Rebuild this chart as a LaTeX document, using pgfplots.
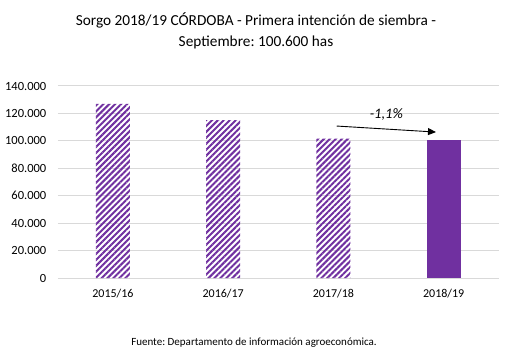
\documentclass[border=0pt]{standalone}
\usepackage{fontspec}
\setmainfont{Carlito}
\usepackage{pgfplots}
\pgfplotsset{compat=1.18}
\usetikzlibrary{patterns.meta,arrows.meta}
\definecolor{purp}{HTML}{7030A0}
\definecolor{gridc}{HTML}{D9D9D9}
\frenchspacing
\begin{document}
\begin{tikzpicture}
\useasboundingbox (0pt,0pt) rectangle (510pt,350pt);
\node[align=center,font=\fontsize{15.3}{21}\selectfont] at (256pt,319pt) {Sorgo 2018/19 CÓRDOBA - Primera intención de siembra -\\Septiembre: 100.600 has};
\node[font=\fontsize{11}{13}\selectfont] at (254pt,7pt) {Fuente: Departamento de información agroeconómica.};
\begin{axis}[
  at={(57.8pt,72pt)}, anchor=south west,
  scale only axis, width=441pt, height=192pt,
  xmin=-0.5, xmax=3.5, ymin=0, ymax=140000,
  xtick={0,1,2,3}, xticklabels={2015/16,2016/17,2017/18,2018/19},
  ytick={0,20000,40000,60000,80000,100000,120000,140000},
  ymajorgrids, grid style={gridc, line width=1pt},
  axis line style={draw=none},
  major tick length=0pt,
  yticklabel style={font=\fontsize{12.5}{14}\selectfont, anchor=east, xshift=-8pt},
  xticklabel style={font=\fontsize{12}{14}\selectfont, yshift=-8pt},
  scaled y ticks=false,
  /pgf/number format/.cd, fixed, 1000 sep={.}, assume math mode=true,
]
\addplot[ybar, bar width=34pt, draw=none,
  pattern={Lines[angle=45,distance=4.2pt,line width=2pt]}, pattern color=purp]
  coordinates {(0,126900) (1,115200) (2,101700)};
\addplot[ybar, bar width=34pt, draw=none, fill=purp]
  coordinates {(3,100600)};
\draw[-{Triangle[length=8pt,width=7pt]}, line width=0.9pt, black]
  (axis cs:2.03,110800) -- (axis cs:2.93,106400);
\node[font=\itshape\fontsize{14.5}{16}\selectfont] at (axis cs:2.48,119500) {-1,1\%};
\end{axis}
\end{tikzpicture}
\end{document}
